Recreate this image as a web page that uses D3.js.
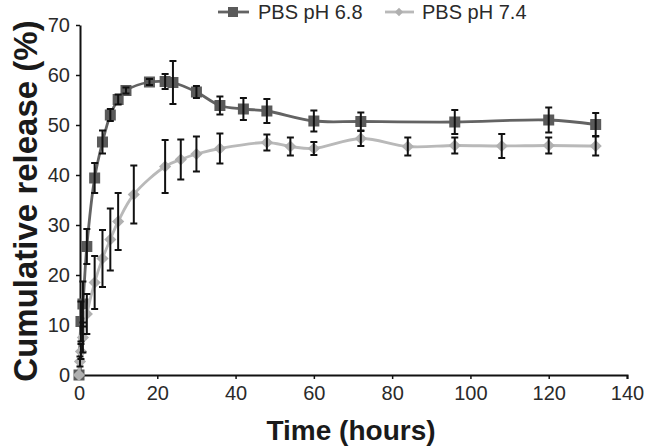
<!DOCTYPE html>
<html><head><meta charset="utf-8">
<script src="https://cdn.jsdelivr.net/npm/d3@7"></script>
<style>body{margin:0;background:#fff}svg{display:block}text{font-family:"Liberation Sans",Arial,sans-serif}</style>
</head><body><svg id="c" width="645" height="446"></svg>
<script>
const seriesNames = ["PBS pH 6.8", "PBS pH 7.4"];
const time68 = [0, 0.5, 1, 2, 4, 6, 8, 10, 12, 18, 22, 24, 30, 36, 42, 48, 60, 72, 96, 120, 132];
const release68 = [0, 10.7, 14.2, 25.7, 39.4, 46.6, 52.0, 55.1, 56.9, 58.6, 58.7, 58.5, 56.6, 53.9, 53.2, 52.8, 50.8, 50.7, 50.6, 51.0, 50.1];
const err68 = [0, 4, 4.5, 3.5, 3, 2.3, 1.2, 1, 0.6, 0.6, 1.5, 4.3, 1.2, 1.8, 2.2, 2.4, 2.1, 1.8, 2.4, 2.5, 2.3];
const time74 = [0, 0.25, 0.5, 1, 2, 4, 6, 8, 10, 14, 22, 26, 30, 36, 48, 54, 60, 72, 84, 96, 108, 120, 132];
const release74 = [0, 2.7, 4.7, 7.5, 12.2, 18.5, 23.3, 27.1, 30.7, 36.1, 41.7, 43.1, 44.2, 45.3, 46.5, 45.7, 45.3, 47.3, 45.7, 45.9, 45.8, 45.9, 45.8];
const err74 = [0, 1, 1.5, 3, 4, 5.3, 5.7, 6.2, 5.7, 5.8, 5.3, 4, 3.5, 3, 1.6, 1.8, 1.3, 1.5, 1.8, 1.6, 2.4, 1.6, 1.9];
const xTicks = [0, 20, 40, 60, 80, 100, 120, 140];
const yTicks = [0, 10, 20, 30, 40, 50, 60, 70];

const svg = d3.select("#c");
const x = d3.scaleLinear().domain([0, 140]).range([79, 627]);
const y = d3.scaleLinear().domain([0, 70]).range([375, 25]);

// axes
const xa = svg.append("g").attr("transform", "translate(0,375)")
  .call(d3.axisBottom(x).tickValues(xTicks).tickSize(4).tickPadding(7).tickSizeOuter(4));
const ya = svg.append("g").attr("transform", "translate(80,0)")
  .call(d3.axisLeft(y).tickValues(yTicks).tickSize(4).tickPadding(6).tickSizeOuter(0));
[xa, ya].forEach(a => {
  a.select(".domain").attr("stroke", "#111").attr("stroke-width", 2);
  a.selectAll(".tick line").attr("stroke", "#111").attr("stroke-width", 1.5);
  a.selectAll(".tick text").attr("fill", "#2a2a2a").style("font-size", "20px");
});

const makeData = (t, v, e) => t.map((d, i) => ({t: d, v: v[i], e: e[i]}));
const d68 = makeData(time68, release68, err68);
const d74 = makeData(time74, release74, err74);

const line = d3.line().x(d => x(d.t)).y(d => y(d.v)).curve(d3.curveCatmullRom.alpha(0.5));

function drawSeries(data, lineColor, markColor, shape) {
  svg.append("path").datum(data).attr("d", line)
    .attr("fill", "none").attr("stroke", lineColor).attr("stroke-width", 2.8);
  const g = svg.append("g");
  if (shape === "square") {
    g.selectAll("rect").data(data).join("rect")
      .attr("x", d => x(d.t) - 5.5).attr("y", d => y(d.v) - 5.5)
      .attr("width", 11).attr("height", 11).attr("fill", markColor);
  } else {
    g.selectAll("path").data(data).join("path")
      .attr("d", d3.symbol(d3.symbolDiamond2, 95))
      .attr("transform", d => `translate(${x(d.t)},${y(d.v)})`).attr("fill", markColor);
  }
}
function drawErr(data) {
  const g = svg.append("g").attr("stroke", "#111").attr("stroke-width", 2);
  data.filter(d => d.e > 0).forEach(d => {
    const cx = x(d.t);
    g.append("line").attr("x1", cx).attr("x2", cx).attr("y1", y(d.v + d.e)).attr("y2", y(d.v - d.e));
    g.append("line").attr("x1", cx - 3.5).attr("x2", cx + 3.5).attr("y1", y(d.v + d.e)).attr("y2", y(d.v + d.e));
    g.append("line").attr("x1", cx - 3.5).attr("x2", cx + 3.5).attr("y1", y(d.v - d.e)).attr("y2", y(d.v - d.e));
  });
}
drawSeries(d68, "#636363", "#5a5a5a", "square");
drawSeries(d74, "#b9b9b9", "#b0b0b0", "diamond");
drawErr(d68);
drawErr(d74);

// legend
const lg = svg.append("g");
lg.append("line").attr("x1", 218).attr("x2", 249).attr("y1", 12).attr("y2", 12).attr("stroke", "#636363").attr("stroke-width", 2.8);
lg.append("rect").attr("x", 228).attr("y", 7).attr("width", 10).attr("height", 10).attr("fill", "#5a5a5a");
lg.append("text").attr("x", 258).attr("y", 19).style("font-size", "20px").attr("fill", "#2a2a2a").text(seriesNames[0]);
lg.append("line").attr("x1", 385).attr("x2", 414).attr("y1", 12).attr("y2", 12).attr("stroke", "#b9b9b9").attr("stroke-width", 2.8);
lg.append("path").attr("d", d3.symbol(d3.symbolDiamond2, 45)).attr("transform", "translate(399,12)").attr("fill", "#b0b0b0");
lg.append("text").attr("x", 422).attr("y", 19).style("font-size", "20px").attr("fill", "#2a2a2a").text(seriesNames[1]);

// titles
svg.append("text").attr("x", 351).attr("y", 440).attr("text-anchor", "middle")
  .style("font-size", "28px").style("font-weight", "bold").attr("fill", "#1a1a1a").text("Time (hours)");
svg.append("text").attr("transform", "translate(37,201) rotate(-90)").attr("text-anchor", "middle")
  .style("font-size", "33px").style("font-weight", "bold").attr("fill", "#1a1a1a").text("Cumulative release (%)");
</script></body></html>
